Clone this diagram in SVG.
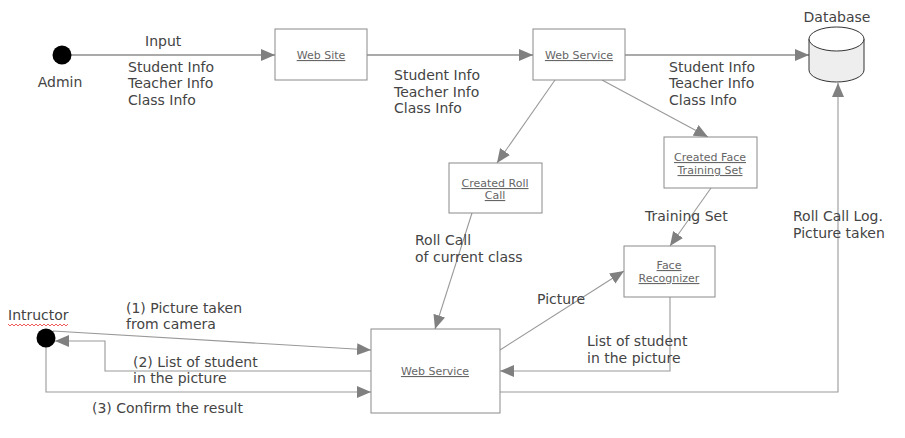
<svg xmlns="http://www.w3.org/2000/svg" width="905" height="438" viewBox="0 0 905 438">
<style>
.lbl{font-family:"DejaVu Sans",Verdana,sans-serif;font-size:14px;fill:#444}
.box{fill:#fff;stroke:#8a8a8a;stroke-width:1}
.bt{font-family:"DejaVu Sans",Verdana,sans-serif;font-size:11px;fill:#666;text-decoration:underline;text-anchor:middle}
.c1{fill:none;stroke:#aaa;stroke-width:2}
.c2{fill:none;stroke:#999;stroke-width:1.1}
</style>
<defs>
<marker id="a" viewBox="0 0 14 12" refX="14" refY="6" markerWidth="14" markerHeight="12" markerUnits="userSpaceOnUse" orient="auto"><path d="M0,0 L14,6 L0,12 z" fill="#808080"/></marker>
</defs>
<g id="connectors">
<path class="c1" d="M71,55 H275" marker-end="url(#a)"/>
<path class="c1" d="M367,55 H533" marker-end="url(#a)"/>
<path class="c1" d="M625,55 H809" marker-end="url(#a)"/>
<path class="c2" d="M602,80 L708,137" marker-end="url(#a)"/>
<path class="c2" d="M555,80 L497,163" marker-end="url(#a)"/>
<path class="c2" d="M711,188 L670,246" marker-end="url(#a)"/>
<path class="c2" d="M472,213 L435,329" marker-end="url(#a)"/>
<path class="c2" d="M500,350 L624,271" marker-end="url(#a)"/>
<path class="c2" d="M670,297 V371 H500" marker-end="url(#a)"/>
<path class="c2" d="M500,392 H838 V83" marker-end="url(#a)"/>
<path class="c2" d="M53,331 L371,350" marker-end="url(#a)"/>
<path class="c2" d="M371,371 H105 V341 H55" marker-end="url(#a)"/>
<path class="c2" d="M46,347 V392 H371" marker-end="url(#a)"/>
</g>
<g id="admin">
<circle cx="62" cy="55" r="9.5" fill="#000"/>
<text class="lbl" x="60" y="87" text-anchor="middle">Admin</text>
</g>
<g id="instructor">
<circle cx="46" cy="338" r="9.5" fill="#000"/>
<text class="lbl" x="8" y="320">Intructor</text>
<path d="M8,324 l2,2 l2,-2 l2,2 l2,-2 l2,2 l2,-2 l2,2 l2,-2 l2,2 l2,-2 l2,2 l2,-2 l2,2 l2,-2 l2,2 l2,-2 l2,2 l2,-2 l2,2 l2,-2 l2,2 l2,-2 l2,2 l2,-2 l2,2 l2,-2 l2,2 l2,-2 l2,2 l2,-2" fill="none" stroke="#e33" stroke-width="0.8"/>
</g>
<g id="website">
<rect class="box" x="275" y="29" width="92" height="51"/>
<text class="bt" x="321" y="59">Web Site</text>
</g>
<g id="webservice1">
<rect class="box" x="533" y="29" width="92" height="51"/>
<text class="bt" x="579" y="59">Web Service</text>
</g>
<g id="database">
<path d="M809,39 V70 A27.5,12 0 0 0 864,70 V39" fill="#eee" stroke="#333" stroke-width="1"/>
<ellipse cx="836.5" cy="39" rx="27.5" ry="12" fill="#fff" stroke="#333" stroke-width="1"/>
<text class="lbl" x="837" y="22" text-anchor="middle">Database</text>
</g>
<g id="rollcall">
<rect class="box" x="449" y="163" width="93" height="50"/>
<text class="bt" x="495" y="187">Created Roll</text>
<text class="bt" x="495" y="199">Call</text>
</g>
<g id="facetraining">
<rect class="box" x="664" y="137" width="93" height="51"/>
<text class="bt" x="710" y="161">Created Face</text>
<text class="bt" x="710" y="174">Training Set</text>
</g>
<g id="facerecognizer">
<rect class="box" x="624" y="246" width="91" height="51"/>
<text class="bt" x="669" y="269">Face</text>
<text class="bt" x="669" y="282">Recognizer</text>
</g>
<g id="webservice2">
<rect class="box" x="371" y="329" width="129" height="84"/>
<text class="bt" x="435" y="375">Web Service</text>
</g>
<g id="labels">
<text class="lbl" x="145" y="46">Input</text>
<text class="lbl" x="128" y="72">Student Info</text>
<text class="lbl" x="128" y="88">Teacher Info</text>
<text class="lbl" x="128" y="105">Class Info</text>
<text class="lbl" x="394" y="80">Student Info</text>
<text class="lbl" x="394" y="97">Teacher Info</text>
<text class="lbl" x="394" y="113">Class Info</text>
<text class="lbl" x="669" y="72">Student Info</text>
<text class="lbl" x="669" y="88">Teacher Info</text>
<text class="lbl" x="669" y="105">Class Info</text>
<text class="lbl" x="645" y="221">Training Set</text>
<text class="lbl" x="793" y="221">Roll Call Log.</text>
<text class="lbl" x="793" y="238">Picture taken</text>
<text class="lbl" x="415" y="245">Roll Call</text>
<text class="lbl" x="415" y="262">of current class</text>
<text class="lbl" x="537" y="304">Picture</text>
<text class="lbl" x="587" y="346">List of student</text>
<text class="lbl" x="587" y="363">in the picture</text>
<text class="lbl" x="126" y="313">(1) Picture taken</text>
<text class="lbl" x="126" y="329">from camera</text>
<text class="lbl" x="133" y="367">(2) List of student</text>
<text class="lbl" x="133" y="383">in the picture</text>
<text class="lbl" x="92" y="413">(3) Confirm the result</text>
</g>
</svg>
